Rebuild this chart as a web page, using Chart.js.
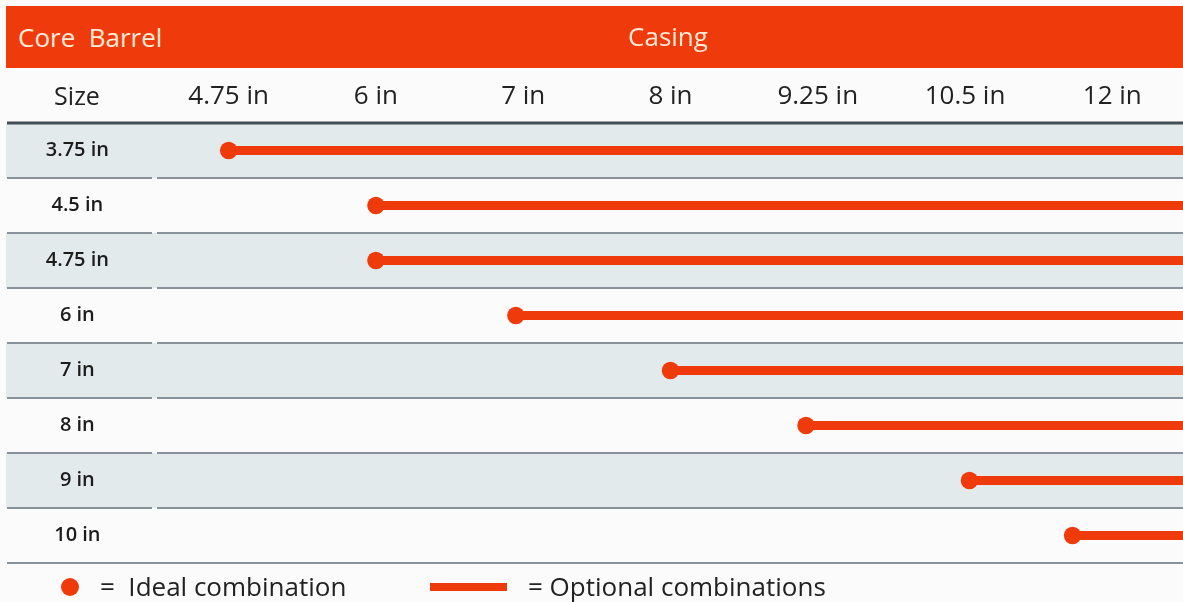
<!DOCTYPE html>
<html>
<head>
<meta charset="utf-8">
<title>Core Barrel / Casing combinations</title>
<script src="https://cdn.jsdelivr.net/npm/chart.js@4.4.1/dist/chart.umd.min.js"></script>
<style>
  body { margin: 0; background: #fbfbfb; font-family: "Open Sans", sans-serif; }
  #wrap { position: relative; width: 1183px; height: 602px; overflow: hidden; }
  #wrap canvas { position: absolute; left: 0; top: 0; }
  .header { position: absolute; left: 6px; top: 6px; width: 1177px; height: 62px; background: #ef3a0b; color: #fdebd8; font-size: 26px; line-height: 62px; }
  .header .left { position: absolute; left: 12px; top: 0; white-space: pre; }
  .header .mid { position: absolute; left: 662px; top: -1px; transform: translateX(-50%); }
  .size { position: absolute; left: 77px; top: 95px; transform: translate(-50%, -50%); font-size: 25px; color: #222; }
  .legend { position: absolute; top: 572px; height: 28px; line-height: 28px; font-size: 26px; color: #222; white-space: pre; }
  .dot { position: absolute; left: 61px; top: 578px; width: 18px; height: 18px; border-radius: 50%; background: #ef3a0b; }
  .bar { position: absolute; left: 430px; top: 583px; width: 77px; height: 8px; background: #ef3a0b; }
</style>
</head>
<body>
<div id="wrap">
  <canvas id="chart" width="1183" height="602"></canvas>
  <div class="header"><span class="left">Core  Barrel</span><span class="mid">Casing</span></div>
  <div class="size">Size</div>
  <div class="dot"></div>
  <div class="legend" style="left:100px">=  Ideal combination</div>
  <div class="bar"></div>
  <div class="legend" style="left:528px">= Optional combinations</div>
</div>
<script>
// Column headers (casing) and row headers (core barrel)
const casingSizes = ["4.75 in", "6 in", "7 in", "8 in", "9.25 in", "10.5 in", "12 in"];
const coreSizes = ["3.75 in", "4.5 in", "4.75 in", "6 in", "7 in", "8 in", "9 in", "10 in"];
// Where the ideal dot sits, in casing column units
const idealCasing = [0, 1, 1, 1.95, 3, 3.92, 5.03, 5.73];
// Optional combinations run to the end of the table
const optionalEnd = 6.48;
const axisMin = -0.5;

const ORANGE = "#ef3a0b";

const tablePlugin = {
    id: "tableRows",
    beforeDraw(chart) {
        const { ctx, chartArea, scales } = chart;
        const y = scales.y;
        const band = (chartArea.bottom - chartArea.top) / coreSizes.length;
        const right = chart.width;
        ctx.save();
        // striped rows
        coreSizes.forEach((c, i) => {
            if (i % 2 === 0) {
                ctx.fillStyle = "#e2eaeb";
                ctx.fillRect(6, y.getPixelForValue(i) - band / 2, right - 6, band);
            }
        });
        // row separators, with a small gap after the label column
        ctx.strokeStyle = "#87929a";
        ctx.lineWidth = 2;
        coreSizes.forEach((c, i) => {
            const yy = Math.round(y.getPixelForValue(i) + band / 2);
            ctx.beginPath();
            if (i < coreSizes.length - 1) {
                ctx.moveTo(7, yy); ctx.lineTo(152, yy);
                ctx.moveTo(157, yy); ctx.lineTo(right, yy);
            } else {
                ctx.moveTo(7, yy); ctx.lineTo(right, yy);
            }
            ctx.stroke();
        });
        // heavy rule under the column headers
        ctx.strokeStyle = "#434f57";
        ctx.lineWidth = 3;
        ctx.beginPath();
        ctx.moveTo(7, chartArea.top);
        ctx.lineTo(right, chartArea.top);
        ctx.stroke();
        ctx.restore();
    }
};

const datasets = coreSizes.map((core, i) => ({
    label: core,
    data: [{ x: idealCasing[i], y: core }, { x: optionalEnd, y: core }],
    showLine: true,
    borderColor: ORANGE,
    backgroundColor: ORANGE,
    borderWidth: 9,
    borderCapStyle: "butt",
    pointRadius: [8.7, 0],
    pointHoverRadius: [8.7, 0],
    pointBorderWidth: 0,
    clip: false
}));

new Chart(document.getElementById("chart"), {
    type: "scatter",
    data: { datasets: datasets },
    plugins: [tablePlugin],
    options: {
        responsive: false,
        animation: false,
        events: [],
        layout: { autoPadding: false, padding: { top: 68, bottom: 39, left: 0, right: 0 } },
        plugins: { legend: { display: false }, tooltip: { enabled: false } },
        scales: {
            x: {
                type: "linear",
                position: "top",
                min: axisMin,
                max: optionalEnd,
                afterBuildTicks: (s) => { s.ticks = casingSizes.map((c, i) => ({ value: i })); },
                afterFit: (s) => { s.height = 55; },
                grid: { display: false },
                border: { display: false },
                ticks: {
                    padding: 3,
                    color: "#222",
                    font: { family: "Open Sans", size: 26 },
                    maxRotation: 0,
                    autoSkip: false,
                    callback: (v) => casingSizes[v]
                }
            },
            y: {
                type: "category",
                labels: coreSizes,
                offset: true,
                afterFit: (s) => { s.width = 155; s.paddingTop = 0; s.paddingBottom = 0; },
                grid: { display: false },
                border: { display: false },
                ticks: {
                    crossAlign: "center",
                    padding: 38,
                    color: "#1c1c1c",
                    font: { family: "Open Sans", size: 20, weight: "600" }
                }
            }
        }
    }
});
</script>
</body>
</html>
